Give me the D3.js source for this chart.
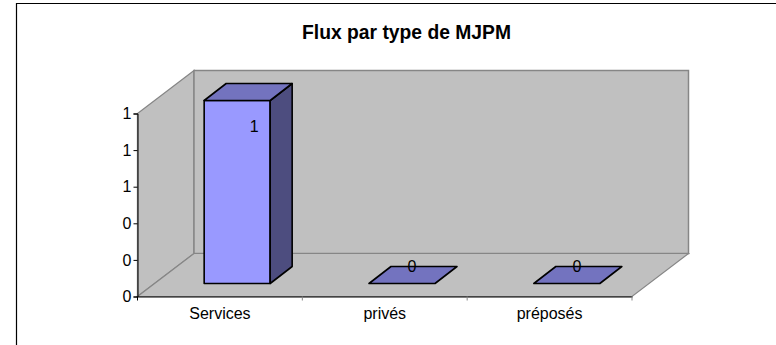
<!DOCTYPE html>
<html><head><meta charset="utf-8">
<script src="https://cdn.jsdelivr.net/npm/d3@7"></script>
<style>html,body{margin:0;padding:0;background:#fff}svg{display:block}text{font-family:"Liberation Sans",Arial,sans-serif;fill:#000}</style>
</head><body><svg id="c" width="776" height="345"></svg>
<script>
const chartTitle = "Flux par type de MJPM";
const categories = ["Services", "privés", "préposés"];
const values = [1, 0, 0];
const tickValues = [0, 0.2, 0.4, 0.6, 0.8, 1];

const svg = d3.select("#c");
const x = d3.scaleBand().domain(categories).range([137.5, 632]);
const y = d3.scaleLinear().domain([0, 1]).range([296.5, 113.5]);
const wallDx = 56.5, wallDy = -43, barDx = 22, barDy = -17, barW = 66;
const line = d3.line();
const grey = "#868686";
const fs = 16;

svg.append("path").attr("d", "M16.5,345V3.5H776").attr("fill", "none").attr("stroke", "#000").attr("stroke-width", 1.2);

svg.append("text").attr("x", 406.5).attr("y", 38.5).attr("text-anchor", "middle")
  .attr("font-size", 19.3).attr("font-weight", "bold").text(chartTitle);

const x0 = x.range()[0], x1 = x.range()[1], y0 = y(0), yT = y(1);
svg.append("path").attr("d", line([[x0,y0],[x0,yT],[x0+wallDx,yT+wallDy],[x0+wallDx,y0+wallDy]]) + "Z")
  .attr("fill", "#c0c0c0").attr("stroke", grey).attr("stroke-width", 1.3);
svg.append("path").attr("d", line([[x0+wallDx,yT+wallDy],[x1+wallDx,yT+wallDy],[x1+wallDx,y0+wallDy],[x0+wallDx,y0+wallDy]]) + "Z")
  .attr("fill", "#c0c0c0").attr("stroke", grey).attr("stroke-width", 1.5);
svg.append("path").attr("d", line([[x0,y0],[x1,y0],[x1+wallDx,y0+wallDy],[x0+wallDx,y0+wallDy]]) + "Z")
  .attr("fill", "#c0c0c0").attr("stroke", grey).attr("stroke-width", 1.2);

const yAxis = d3.axisLeft(y).tickValues(tickValues).tickSize(4).tickPadding(2).tickFormat(d => d3.format(".0f")(d));
const gy = svg.append("g").attr("transform", `translate(${x0},0)`).call(yAxis);
gy.selectAll("path,line").attr("stroke", "#000").attr("stroke-width", 1);
gy.selectAll("text").attr("font-size", fs).attr("font-family", '"Liberation Sans"');

const xAxis = d3.axisBottom(x).tickSize(0).tickPadding(11.5);
const gx = svg.append("g").attr("transform", `translate(0,${y0})`).call(xAxis);
gx.select("path").attr("stroke", "#000").attr("stroke-width", 1.2);
gx.selectAll("text").attr("font-size", fs).attr("font-family", '"Liberation Sans"');
const edgeTicks = categories.map(c => x(c)).concat([x1]);
svg.append("g").selectAll("line").data(edgeTicks).join("line")
  .attr("x1", d => d).attr("x2", d => d).attr("y1", y0).attr("y2", y0 + 4)
  .attr("stroke", (d, i) => i === 0 ? "#000" : grey).attr("stroke-width", 1);

const offX = (wallDx - barDx) / 2, offY = (wallDy - barDy) / 2;
const rows = categories.map((c, i) => ({c, v: values[i]}));
const bars = svg.append("g").selectAll("g").data(rows).join("g")
  .attr("stroke", "#000").attr("stroke-width", 1.6).attr("stroke-linejoin", "round");
const geom = d => {
  const l = x(d.c) + x.bandwidth() / 2 - barW / 2 + offX, r = l + barW;
  const b = y0 + offY, t = y(d.v) + offY;
  return {l, r, b, t};
};
bars.filter(d => d.v > 0).append("path").attr("fill", "#9999ff").attr("d", d => {
  const g = geom(d); return line([[g.l,g.b],[g.r,g.b],[g.r,g.t],[g.l,g.t]]) + "Z";
});
bars.filter(d => d.v > 0).append("path").attr("fill", "#4d4d7f").attr("d", d => {
  const g = geom(d); return line([[g.r,g.b],[g.r+barDx,g.b+barDy],[g.r+barDx,g.t+barDy],[g.r,g.t]]) + "Z";
});
bars.append("path").attr("fill", "#7373bf").attr("d", d => {
  const g = geom(d); return line([[g.l,g.t],[g.r,g.t],[g.r+barDx,g.t+barDy],[g.l+barDx,g.t+barDy]]) + "Z";
});
svg.append("g").selectAll("text").data(rows).join("text")
  .attr("x", d => geom(d).l + barW / 2 + (d.v > 0 ? 17 : 10))
  .attr("y", d => geom(d).t + (d.v > 0 ? 31.5 : -11.5))
  .attr("text-anchor", "middle").attr("font-size", fs).text(d => d.v);
</script></body></html>
